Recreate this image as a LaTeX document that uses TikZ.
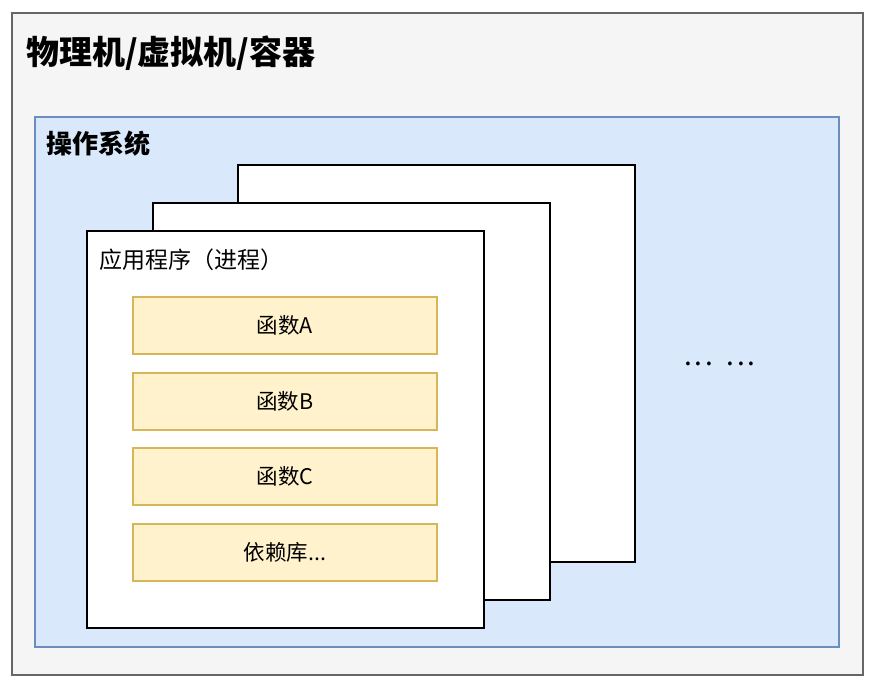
\documentclass[tikz,border=0pt]{standalone}
\usepackage{fontspec}
\setmainfont{Noto Sans CJK SC}
\definecolor{outerfill}{HTML}{F5F5F5}
\definecolor{outerdraw}{HTML}{666666}
\definecolor{osfill}{HTML}{DAE8FC}
\definecolor{osdraw}{HTML}{6C8EBF}
\definecolor{fnfill}{HTML}{FFF2CC}
\definecolor{fndraw}{HTML}{D6B656}
\tikzset{
  box/.style={rectangle, inner sep=0pt, outer sep=0pt, anchor=north west},
  outerbox/.style={box, fill=outerfill, draw=outerdraw, line width=1.5pt},
  osbox/.style={box, fill=osfill, draw=osdraw, line width=1.5pt},
  procbox/.style={box, fill=white, draw=black, line width=2pt, minimum width=397pt, minimum height=397pt},
  fnbox/.style={rectangle, inner sep=0pt, outer sep=0pt, fill=fnfill, draw=fndraw, line width=1.5pt,
    minimum width=304pt, minimum height=57pt, font=\fontsize{21.5}{24}\selectfont},
  lbl/.style={inner sep=0pt, outer sep=0pt, anchor=base west},
}
\begin{document}
\begin{tikzpicture}[x=1pt,y=-1pt]
\useasboundingbox (0,0) rectangle (877,690);
\node[outerbox, minimum width=851pt, minimum height=662pt] (phys) at (12,13) {};
\node[lbl, font=\fontsize{33}{38}\selectfont\bfseries] (physlbl) at (26,65) {物理机/虚拟机/容器};
\node[osbox, minimum width=804pt, minimum height=530pt] (os) at (35,117) {};
\node[lbl, font=\fontsize{26}{30}\selectfont\bfseries] (oslbl) at (46,153) {操作系统};
\node[procbox] (p3) at (238,165) {};
\node[procbox] (p2) at (153,203) {};
\node[procbox] (p1) at (87,231) {};
\node[lbl, font=\fontsize{23}{27}\selectfont] (p1lbl) at (99,268.5) {应用程序（进程）};
\node[fnbox] (fa) at (285,325.5) {函数A};
\node[fnbox] (fb) at (285,401.5) {函数B};
\node[fnbox] (fc) at (285,476.5) {函数C};
\node[fnbox] (fd) at (285,552.5) {依赖库...};
\node[inner sep=0pt, anchor=base, font=\fontsize{28}{32}\selectfont] (more) at (720,365) {.\kern2.5pt.\kern2.5pt.\kern14pt.\kern2.5pt.\kern2.5pt.};
\end{tikzpicture}
\end{document}
